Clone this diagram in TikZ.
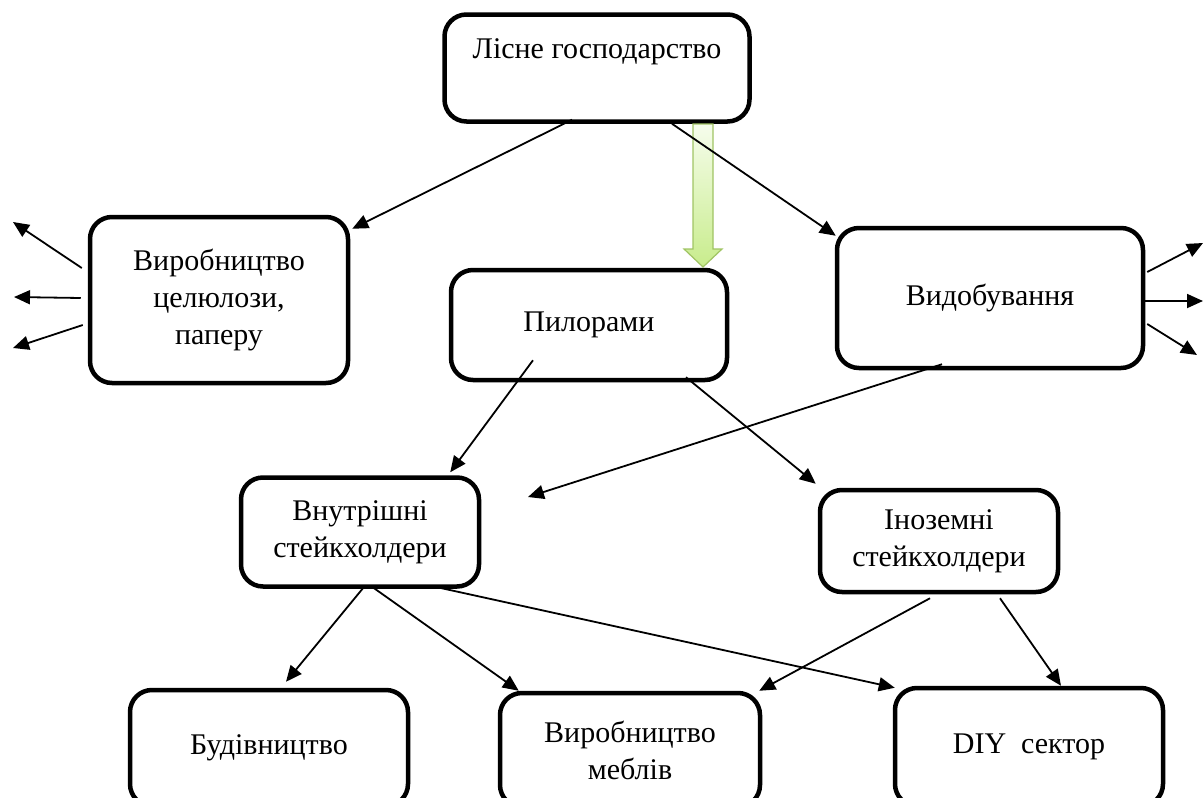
\documentclass[tikz,border=0pt]{standalone}
\usepackage{fontspec}
\setmainfont{Liberation Serif}
\usetikzlibrary{arrows.meta,calc}
\definecolor{gtop}{RGB}{246,253,236}
\definecolor{gbot}{RGB}{200,236,140}
\definecolor{gedge}{RGB}{160,196,100}
\begin{document}
\begin{tikzpicture}[x=1pt,y=-1pt,
  box/.style={draw, line width=4.5pt, rounded corners=22pt, align=center,
    font=\fontsize{30}{37}\selectfont, inner sep=0pt, fill=white},
  arr/.style={-{Triangle[length=16pt,width=14pt]}, line width=1.8pt},
]
\useasboundingbox (0,0) rectangle (1203,798);
\begin{scope}
\clip (0,0) rectangle (1203,798);
% boxes
\node[box, minimum width=305pt, minimum height=107pt, text height=20pt, text depth=40pt] (les) at (597,68) {Лісне господарство};
\node[box, minimum width=258pt, minimum height=166pt] (cel) at (219,300) {Виробництво\\целюлози,\\паперу};
\node[box, minimum width=276pt, minimum height=110pt] (pil) at (589,325) {Пилорами};
\node[box, minimum width=306pt, minimum height=140pt] (vid) at (990,298) {Видобування};
\node[box, minimum width=238pt, minimum height=109pt] (vnu) at (360,532) {Внутрішні\\стейкхолдери};
\node[box, minimum width=238pt, minimum height=102pt] (ino) at (939,541) {Іноземні\\стейкхолдери};
\node[box, minimum width=278pt, minimum height=116pt] (bud) at (269,748) {Будівництво};
\node[box, minimum width=260pt, minimum height=114pt] (meb) at (630,750) {Виробництво\\меблів};
\node[box, minimum width=268pt, minimum height=118pt] (diy) at (1029,747) {DIY\ \ сектор};
% green block arrow
\shade[top color=gtop, bottom color=gbot, draw=gedge, line width=1.2pt]
  (693,124) -- (713,124) -- (713,249) -- (722,249) -- (703,267) -- (684,249) -- (693,249) -- cycle;
% free ends
\coordinate (l1) at (13,222);
\coordinate (l2) at (14,297);
\coordinate (l3) at (13,348);
\coordinate (r1) at (1203,243);
\coordinate (r2) at (1203,301);
\coordinate (r3) at (1197,355);
\coordinate (mid) at (528,497);
% connectors
\draw[arr] ($(les.south)+(-25,-4)$) -- ($(cel.north east)+(2,14)$);
\draw[arr] ($(les.south)+(75,0)$) -- ($(vid.north west)+(1,10)$);
\draw[arr] ($(pil.south)+(-56,-22)$) -- ($(vnu.north east)+(-31,-3)$);
\draw[arr] ($(pil.south)+(97,-5)$) -- ($(ino.north west)+(-2,-4)$);
\draw[arr] ($(vid.south)+(-48,-6)$) -- (mid);
\draw[arr] ($(vnu.south)+(5,-3)$) -- ($(bud.north)+(17,-6)$);
\draw[arr] ($(vnu.south)+(12,-2)$) -- ($(meb.north west)+(21,0)$);
\draw[arr] ($(vnu.south)+(75,-2)$) -- ($(diy.north west)+(2,2)$);
\draw[arr] ($(ino.south)+(-9,4)$) -- ($(meb.north east)+(-3,0)$);
\draw[arr] ($(ino.south)+(61,4)$) -- ($(diy.north)+(32,0)$);
\draw[arr] ($(cel.west)+(-6,-32)$) -- (l1);
\draw[arr] ($(cel.west)+(-7,-2)$) -- (l2);
\draw[arr] ($(cel.west)+(-5,25)$) -- (l3);
\draw[arr] ($(vid.east)+(2,-26)$) -- (r1);
\draw[arr] ($(vid.east)+(0,3)$) -- (r2);
\draw[arr] ($(vid.east)+(2,26)$) -- (r3);
\end{scope}
\end{tikzpicture}
\end{document}
